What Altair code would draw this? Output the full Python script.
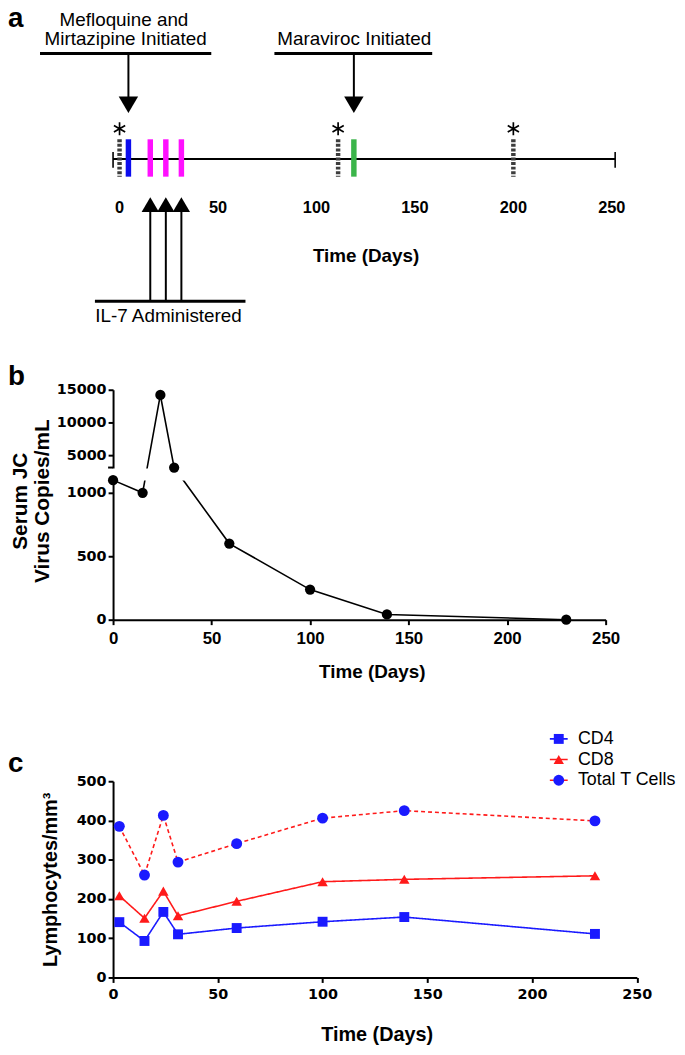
import altair as alt
import pandas as pd

# ---------------- data ----------------
# panel a : timeline (days)
TIMELINE_DAYS = [-3.3, 251.7]
A_TICKS = [0, 50, 100, 150, 200, 250]
SAMPLE_DAYS = [0, 111, 200]
DRUG_START_DAYS = [4.5, 119]
IL7_DAYS = [15.6, 23.5, 31.4]
EVENT_DAYS = [4.5, 15.6, 23.5, 31.4, 119]
EVENT_TYPES = ["Mefloquine and Mirtazipine", "IL-7", "IL-7", "IL-7", "Maraviroc"]
EVENT_DOMAIN = ["Mefloquine and Mirtazipine", "IL-7", "Maraviroc"]
EVENT_COLORS = ["#0c0cee", "#ff10ff", "#3bb54a"]

# panel b : serum JC virus
B_DAYS = [0, 15, 24, 31, 59, 100, 139, 230]
B_COPIES = [1100, 1000, 14200, 3100, 600, 237, 41, 0]
B_YTICKS = [0, 500, 1000, 5000, 10000, 15000]
B_XTICKS = [0, 50, 100, 150, 200, 250]

# panel c : lymphocytes
C_DAYS = [3, 15, 24, 31, 59, 100, 139, 230]
C_CD4 = [141, 93, 167, 110, 126, 142, 154, 111]
C_CD8 = [208, 151, 220, 157, 194, 244, 250, 259]
C_TOTAL = [385, 261, 413, 294, 341, 406, 425, 399]
C_SERIES = ["CD4", "CD8", "Total T Cells"]
C_YTICKS = [0, 100, 200, 300, 400, 500]
C_XTICKS = [0, 50, 100, 150, 200, 250]

FONT = "Liberation Sans"


def label(txt, x, y, size=19, weight="normal", align="center", baseline="alphabetic", font=FONT):
    return alt.Chart().mark_text(
        text=txt, fontSize=size, fontWeight=weight, align=align, baseline=baseline,
        font=font, color="black"
    ).encode(x=alt.value(x), y=alt.value(y))


def hbar(x1, x2, y, w=3):
    return alt.Chart().mark_rule(color="black", strokeWidth=w).encode(
        x=alt.value(x1), x2=alt.value(x2), y=alt.value(y))


# ---------------- panel a ----------------
WA, HA = 506.6, 219
SA = alt.Scale(domain=TIMELINE_DAYS, nice=False, zero=False)


def XA(f):
    return alt.X(f"{f}:Q", scale=SA, axis=None)


tl_df = pd.DataFrame({"start": [TIMELINE_DAYS[0]], "end": [TIMELINE_DAYS[1]]})
ends_df = pd.DataFrame({"day": TIMELINE_DAYS})
samp_df = pd.DataFrame({"day": SAMPLE_DAYS})
ev_df = pd.DataFrame({"day": EVENT_DAYS, "event": EVENT_TYPES})
drug_df = pd.DataFrame({"day": DRUG_START_DAYS})
il7_df = pd.DataFrame({"day": IL7_DAYS})
atick_df = pd.DataFrame({"day": A_TICKS})

BAR_Y, BAR_Y2 = 129.3, 167
AST = "M0,-1L0,1M-0.87,-0.5L0.87,0.5M-0.87,0.5L0.87,-0.5"
TRI_DOWN = "M-1,-0.85L1,-0.85L0,0.85Z"
TRI_UP = "M-1,0.86L1,0.86L0,-0.86Z"

timeline = alt.Chart(tl_df).mark_rule(color="black", strokeWidth=2).encode(
    x=XA("start"), x2="end:Q", y=alt.value(149.3))
caps = alt.Chart(ends_df).mark_rule(color="black", strokeWidth=1.6).encode(
    x=XA("day"), y=alt.value(142), y2=alt.value(158))
samples = alt.Chart(samp_df).mark_rule(color="#3d3d3d", strokeWidth=4.5, strokeDash=[3, 1.6]).encode(
    x=XA("day"), y=alt.value(BAR_Y), y2=alt.value(BAR_Y2))
events = alt.Chart(ev_df).mark_rule(strokeWidth=5.5).encode(
    x=XA("day"), y=alt.value(BAR_Y), y2=alt.value(BAR_Y2),
    color=alt.Color("event:N", scale=alt.Scale(domain=EVENT_DOMAIN, range=EVENT_COLORS), legend=None))
asterisks = alt.Chart(samp_df).mark_point(
    shape=AST, size=170, filled=False, color="black", strokeWidth=1.7, opacity=1
).encode(x=XA("day"), y=alt.value(118.7))
drug_shaft = alt.Chart(drug_df).mark_rule(color="black", strokeWidth=2).encode(
    x=XA("day"), y=alt.value(42.7), y2=alt.value(90))
drug_head = alt.Chart(drug_df).mark_point(
    shape=TRI_DOWN, size=384, filled=True, color="black", opacity=1, strokeWidth=0
).encode(x=XA("day"), y=alt.value(94.5))
il7_shaft = alt.Chart(il7_df).mark_rule(color="black", strokeWidth=2).encode(
    x=XA("day"), y=alt.value(198), y2=alt.value(292.7))
il7_head = alt.Chart(il7_df).mark_point(
    shape=TRI_UP, size=306, filled=True, color="black", opacity=1, strokeWidth=0
).encode(x=XA("day"), y=alt.value(195.2))
a_ticks = alt.Chart(atick_df).mark_text(
    fontSize=16.5, fontWeight="bold", baseline="alphabetic", font=FONT, color="black"
).encode(x=XA("day"), y=alt.value(203.3), text="day:Q")

panel_a = alt.layer(
    timeline, caps, samples, events, asterisks,
    drug_shaft, drug_head, il7_shaft, il7_head, a_ticks,
    hbar(-73.7, 99.1, 42.7), hbar(162.8, 322.0, 42.7), hbar(-18.3, 133.6, 292.7),
    label("Mefloquine and", 11.0, 15),
    label("Mirtazipine Initiated", 12.7, 34.6),
    label("Maraviroc Initiated", 243.3, 34.6),
    label("IL-7 Administered", 55.9, 314),
    label("Time (Days)", 255.3, 253, size=19, weight="bold"),
    label("a", -106, 15.5, size=28, weight="bold", align="left"),
).properties(width=WA, height=HA)

# ---------------- panel b ----------------
WB, HB = 497, 232
LOW_K, UP_BASE, UP_K, BREAK_V = 0.128, 166, 0.0066, 2000


def b_pos(v):
    return v * LOW_K if v <= BREAK_V else UP_BASE + (v - 5000) * UP_K


pos_expr = (f"datum.copies <= {BREAK_V} ? datum.copies * {LOW_K} : "
            f"{UP_BASE} + (datum.copies - 5000) * {UP_K}")
b_df = pd.DataFrame({"day": B_DAYS, "copies": B_COPIES})
SBX = alt.Scale(domain=[0, 250], nice=False)
SBY = alt.Scale(domain=[0, HB], nice=False)

xb_axis = alt.Axis(
    values=B_XTICKS, title="Time (Days)", labelFont=FONT, labelFontSize=17, labelFontWeight="bold",
    labelPadding=6, tickSize=5, tickWidth=2, domainWidth=2, labelFlush=False, labelOverlap=False,
    titleFont=FONT, titleFontSize=19, titleFontWeight="bold", titleX=261, titleY=58,
    titleBaseline="alphabetic", titleAlign="center")
yb_axis = alt.Axis(
    values=[b_pos(v) for v in B_YTICKS],
    labelExpr=(f"datum.value < 150 ? format(datum.value / {LOW_K}, 'd') : "
               f"format(5000 + (datum.value - {UP_BASE}) / {UP_K}, 'd')"),
    labelFont="DejaVu Sans", labelFontSize=14.5, labelFontWeight="bold", labelPadding=2,
    tickSize=5, tickWidth=2, domainWidth=2, labelOverlap=False, labelFlush=False,
    title=["Serum JC", "Virus Copies/mL"], titleFont=FONT, titleFontSize=21, titleFontWeight="bold",
    titleAngle=270, titleX=-93, titleY=112, titleBaseline="middle", titleAlign="center",
    titleLineHeight=22)

b_line = alt.Chart(b_df).transform_calculate(pos=pos_expr).mark_line(
    color="black", strokeWidth=1.6
).encode(x=alt.X("day:Q", scale=SBX, axis=xb_axis), y=alt.Y("pos:Q", scale=SBY, axis=yb_axis))
b_gap = alt.Chart().mark_rect(color="white").encode(
    x=alt.value(-8), x2=alt.value(200), y=alt.datum(140.5), y2=alt.datum(152.5))
b_pts = alt.Chart(b_df).transform_calculate(pos=pos_expr).mark_circle(
    size=107, color="black", opacity=1
).encode(x=alt.X("day:Q", scale=SBX, axis=xb_axis), y=alt.Y("pos:Q", scale=SBY, axis=yb_axis))
b_cap = alt.Chart().mark_rule(color="black", strokeWidth=2).encode(
    x=alt.value(-5), x2=alt.value(0), y=alt.datum(153.5))

panel_b = alt.layer(
    b_line, b_gap, b_pts, b_cap,
    label("b", -106, -4.3, size=28, weight="bold", align="left"),
).properties(width=WB, height=HB)

# ---------------- panel c ----------------
WC, HC = 528.5, 198
c_df = pd.DataFrame({
    "day": C_DAYS * 3,
    "value": C_CD4 + C_CD8 + C_TOTAL,
    "series": [s for s in C_SERIES for _ in C_DAYS],
})
leg_df = pd.DataFrame({"series": C_SERIES})
SCX = alt.Scale(domain=[0, 250], nice=False)
SCY = alt.Scale(domain=[0, 500], nice=False)
stroke_sc = alt.Scale(domain=C_SERIES, range=["#1a1aff", "#ff1a1a", "#ff1a1a"])
fill_sc = alt.Scale(domain=C_SERIES, range=["#1a1aff", "#ff1a1a", "#1a1aff"])
shape_sc = alt.Scale(domain=C_SERIES, range=["square", "triangle-up", "circle"])
size_sc = alt.Scale(domain=C_SERIES, range=[100, 121, 87])
dash_sc = alt.Scale(domain=C_SERIES, range=[[1, 0], [1, 0], [4, 3]])

xc_axis = alt.Axis(
    values=C_XTICKS, title="Time (Days)", labelFont="DejaVu Sans", labelFontSize=14.5,
    labelFontWeight="bold", labelPadding=5, tickSize=5, tickWidth=2, domainWidth=2, labelFlush=False,
    labelOverlap=False,
    titleFont=FONT, titleFontSize=20, titleFontWeight="bold", titleX=266, titleY=64,
    titleBaseline="alphabetic", titleAlign="center")
yc_axis = alt.Axis(
    values=C_YTICKS, tickCount=6, title="Lymphocytes/mm³", labelFont="DejaVu Sans", labelFontSize=14.5,
    labelFontWeight="bold", labelPadding=2, tickSize=5, tickWidth=2, domainWidth=2,
    labelOverlap=False, labelFlush=False, labelSeparation=0,
    titleFont=FONT, titleFontSize=20, titleFontWeight="bold", titleAngle=270,
    titleX=-63, titleY=99, titleBaseline="middle", titleAlign="center")

c_lines = alt.Chart(c_df).mark_line(strokeWidth=1.6).encode(
    x=alt.X("day:Q", scale=SCX, axis=xc_axis),
    y=alt.Y("value:Q", scale=SCY, axis=yc_axis),
    stroke=alt.Stroke("series:N", scale=stroke_sc, legend=None),
    strokeDash=alt.StrokeDash("series:N", scale=dash_sc, legend=None),
)
c_pts = alt.Chart(c_df).mark_point(filled=True, opacity=1, strokeWidth=0).encode(
    x=alt.X("day:Q", scale=SCX, axis=xc_axis),
    y=alt.Y("value:Q", scale=SCY, axis=yc_axis),
    fill=alt.Fill("series:N", scale=fill_sc, legend=None),
    shape=alt.Shape("series:N", scale=shape_sc, legend=None),
    size=alt.Size("series:N", scale=size_sc, legend=None),
)

LEG_Y0, LEG_DY = -42.7, 20.85
legend_layers = []
for i, s in enumerate(C_SERIES):
    yv = LEG_Y0 + i * LEG_DY
    base = alt.Chart(leg_df).transform_filter(alt.datum.series == s)
    legend_layers.append(base.mark_rule(strokeWidth=1.6).encode(
        x=alt.value(440.7), x2=alt.value(458.7), y=alt.value(yv),
        stroke=alt.Stroke("series:N", scale=stroke_sc, legend=None),
        strokeDash=alt.StrokeDash("series:N", scale=dash_sc, legend=None)))
    legend_layers.append(base.mark_point(filled=True, opacity=1, strokeWidth=0).encode(
        x=alt.value(449.7), y=alt.value(yv),
        fill=alt.Fill("series:N", scale=fill_sc, legend=None),
        shape=alt.Shape("series:N", scale=shape_sc, legend=None),
        size=alt.Size("series:N", scale=size_sc, legend=None)))
    legend_layers.append(base.mark_text(
        align="left", baseline="middle", fontSize=18, font=FONT, color="black"
    ).encode(x=alt.value(469), y=alt.value(yv), text="series:N"))

panel_c = alt.layer(
    c_lines, c_pts, *legend_layers,
    label("c", -106, -9, size=28, weight="bold", align="left"),
).properties(width=WC, height=HC)

chart = alt.vconcat(panel_a, panel_b, panel_c, spacing=163, bounds="flush").resolve_scale(
    x="independent", y="independent", color="independent", stroke="independent",
    fill="independent", shape="independent", size="independent", strokeDash="independent",
).properties(padding={"top": -8.5, "left": 0, "right": 0, "bottom": 0}).configure(font=FONT).configure_view(
    stroke=None).configure_axis(
    grid=False, domainColor="black", tickColor="black", labelColor="black", titleColor="black",
    labelOverlap=False)

chart.save("out.html", embed_options={"renderer": "svg", "actions": False})
